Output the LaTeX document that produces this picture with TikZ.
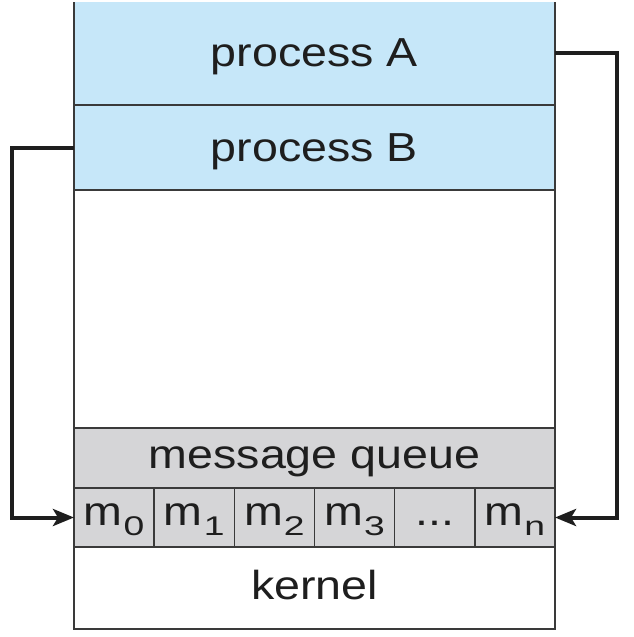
\documentclass[tikz,border=0pt]{standalone}
\usepackage{fontspec}
\setmainfont[FakeStretch=1.15]{Liberation Sans}
\usetikzlibrary{arrows.meta,calc}
\definecolor{procblue}{HTML}{C6E7F9}
\definecolor{qgray}{HTML}{D5D5D7}
\definecolor{edge}{HTML}{3A3A3A}
\definecolor{ink}{HTML}{1E1E1E}
\newcommand{\msub}[2]{#1\kern1pt\raisebox{-10pt}{\scalebox{1.2}[1]{\fontsize{27}{27}\selectfont #2}}}
\begin{document}
\begin{tikzpicture}[x=1pt,y=-1pt,
  region/.style={draw=edge, line width=1.5pt, rectangle, outer sep=0pt, inner sep=0pt,
    minimum width=481pt, text=ink, text depth=0pt, font=\fontsize{40.5}{44}\selectfont},
  cell/.style={draw=edge, line width=1.5pt, rectangle, outer sep=0pt, inner sep=0pt,
    fill=qgray, minimum width=80.17pt, minimum height=59pt, text=ink,
    text height=15pt, text depth=0pt, font=\fontsize{40.5}{44}\selectfont},
  conn/.style={draw=ink, line width=4pt, -{Stealth[length=21pt,width=17pt,inset=5pt]}}]
\useasboundingbox (0,0) rectangle (633,637);
\begin{scope}
\clip (0,2) rectangle (633,637);
\node[region, fill=procblue, minimum height=105pt] (A) at (314.5,52.5) {process A};
\end{scope}
\node[region, fill=procblue, minimum height=85pt] (B) at (314.5,147.5) {process B};
\node[region, fill=white, minimum height=238pt] (free) at (314.5,309) {};
\node[region, fill=qgray, minimum height=60pt] (mq) at (314.5,458) {message queue};
\node[cell] (m0) at (114.08,517.5) {\msub{m}{0}};
\node[cell] (m1) at (194.25,517.5) {\msub{m}{1}};
\node[cell] (m2) at (274.42,517.5) {\msub{m}{2}};
\node[cell] (m3) at (354.58,517.5) {\msub{m}{3}};
\node[cell] (dots) at (434.75,517.5) {...};
\node[cell] (mn) at (514.92,517.5) {\msub{m}{n}};
\node[region, fill=white, minimum height=82pt] (kernel) at (314.5,588) {};
\node[text=ink, text depth=0pt, inner sep=0pt, font=\fontsize{40.5}{44}\selectfont] (klabel) at (314.5,585) {kernel};
\coordinate (aout) at (A.east);
\draw[conn] (B.west) -| (12,517.5) -- (m0.west);
\draw[conn] (aout) -| (617,517.5) -- (mn.east);
\end{tikzpicture}
\end{document}
